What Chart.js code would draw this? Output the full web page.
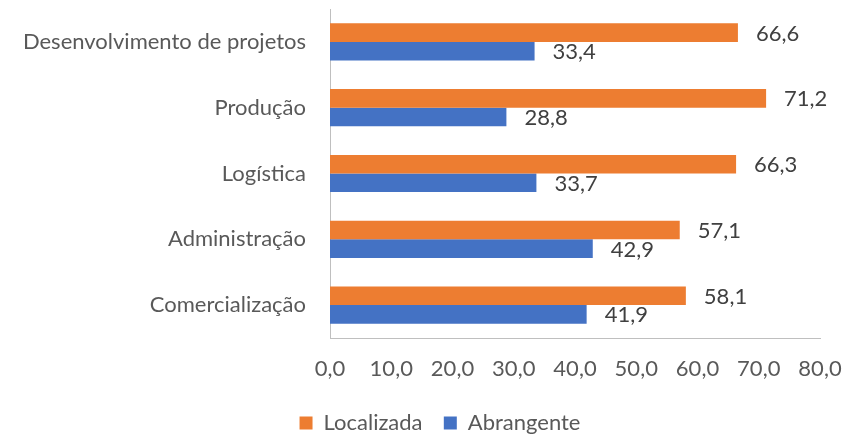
<!DOCTYPE html>
<html>
<head>
<meta charset="utf-8">
<script src="https://cdn.jsdelivr.net/npm/chart.js@4"></script>
<style>
  html, body { margin: 0; padding: 0; background: #fff; }
  #wrap { width: 846px; height: 441px; }
</style>
</head>
<body>
<div id="wrap"><canvas id="barChart" width="846" height="441"></canvas></div>
<script>
const categories = ["Desenvolvimento de projetos", "Produção", "Logística", "Administração", "Comercialização"];
const localizada = [66.6, 71.2, 66.3, 57.1, 58.1];
const abrangente = [33.4, 28.8, 33.7, 42.9, 41.9];
const seriesNames = ["Localizada", "Abrangente"];

const fmt = v => Number(v).toFixed(1).replace('.', ',');
const FONT = "Lato";

// draws value labels to the right of each bar
const valueLabels = {
    id: 'valueLabels',
    afterDatasetsDraw(chart) {
        const ctx = chart.ctx;
        ctx.save();
        ctx.font = "22px " + FONT;
        ctx.fillStyle = '#404040';
        ctx.textAlign = 'left';
        ctx.textBaseline = 'middle';
        chart.data.datasets.forEach((ds, i) => {
            chart.getDatasetMeta(i).data.forEach((bar, j) => {
                ctx.fillText(fmt(ds.data[j]), bar.x + 18, bar.y + 1);
            });
        });
        ctx.restore();
    }
};

// legend in the reference sits a bit right of the canvas centre
const legendShift = {
    id: 'legendShift',
    afterLayout(chart) {
        const lg = chart.legend;
        lg.left += 30; lg.right += 30;
        lg.top += 3; lg.bottom += 3;
    }
};

// no automatic label padding, plot area comes from layout padding
const noPad = s => { s.paddingLeft = 0; s.paddingRight = 0; s.paddingTop = 0; s.paddingBottom = 0; };

const data = {
    labels: categories,
    datasets: [{
        label: seriesNames[0],
        data: localizada,
        backgroundColor: '#ED7D31',
        categoryPercentage: 0.565,
        barPercentage: 1
    }, {
        label: seriesNames[1],
        data: abrangente,
        backgroundColor: '#4472C4',
        categoryPercentage: 0.565,
        barPercentage: 1
    }]
};

const options = {
    indexAxis: 'y',
    responsive: false,
    animation: false,
    layout: { padding: { top: 9, left: 0, right: 26, bottom: 0 } },
    scales: {
        x: {
            min: 0,
            max: 80,
            ticks: {
                stepSize: 10,
                padding: 18,
                maxRotation: 0,
                color: '#595959',
                font: { family: FONT, size: 22 },
                callback: v => fmt(v)
            },
            grid: { display: false, drawTicks: false },
            border: { display: true, color: '#bfbfbf', width: 1 },
            afterFit: s => { s.height = 61; noPad(s); }
        },
        y: {
            ticks: {
                padding: 24,
                color: '#595959',
                font: { family: FONT, size: 22 }
            },
            grid: { display: false, drawTicks: false },
            border: { display: true, color: '#bfbfbf', width: 1 },
            afterFit: s => { s.width = 330; noPad(s); }
        }
    },
    plugins: {
        legend: {
            position: 'bottom',
            labels: {
                boxWidth: 13,
                boxHeight: 13,
                padding: 10,
                color: '#595959',
                font: { family: FONT, size: 22 },
                generateLabels: chart => {
                    const items = Chart.defaults.plugins.legend.labels.generateLabels(chart);
                    items[0].text += '  ';
                    return items;
                }
            }
        },
        tooltip: { enabled: false }
    }
};

new Chart(document.getElementById('barChart').getContext('2d'), {
    type: 'bar',
    data: data,
    options: options,
    plugins: [valueLabels, legendShift]
});
</script>
</body>
</html>
